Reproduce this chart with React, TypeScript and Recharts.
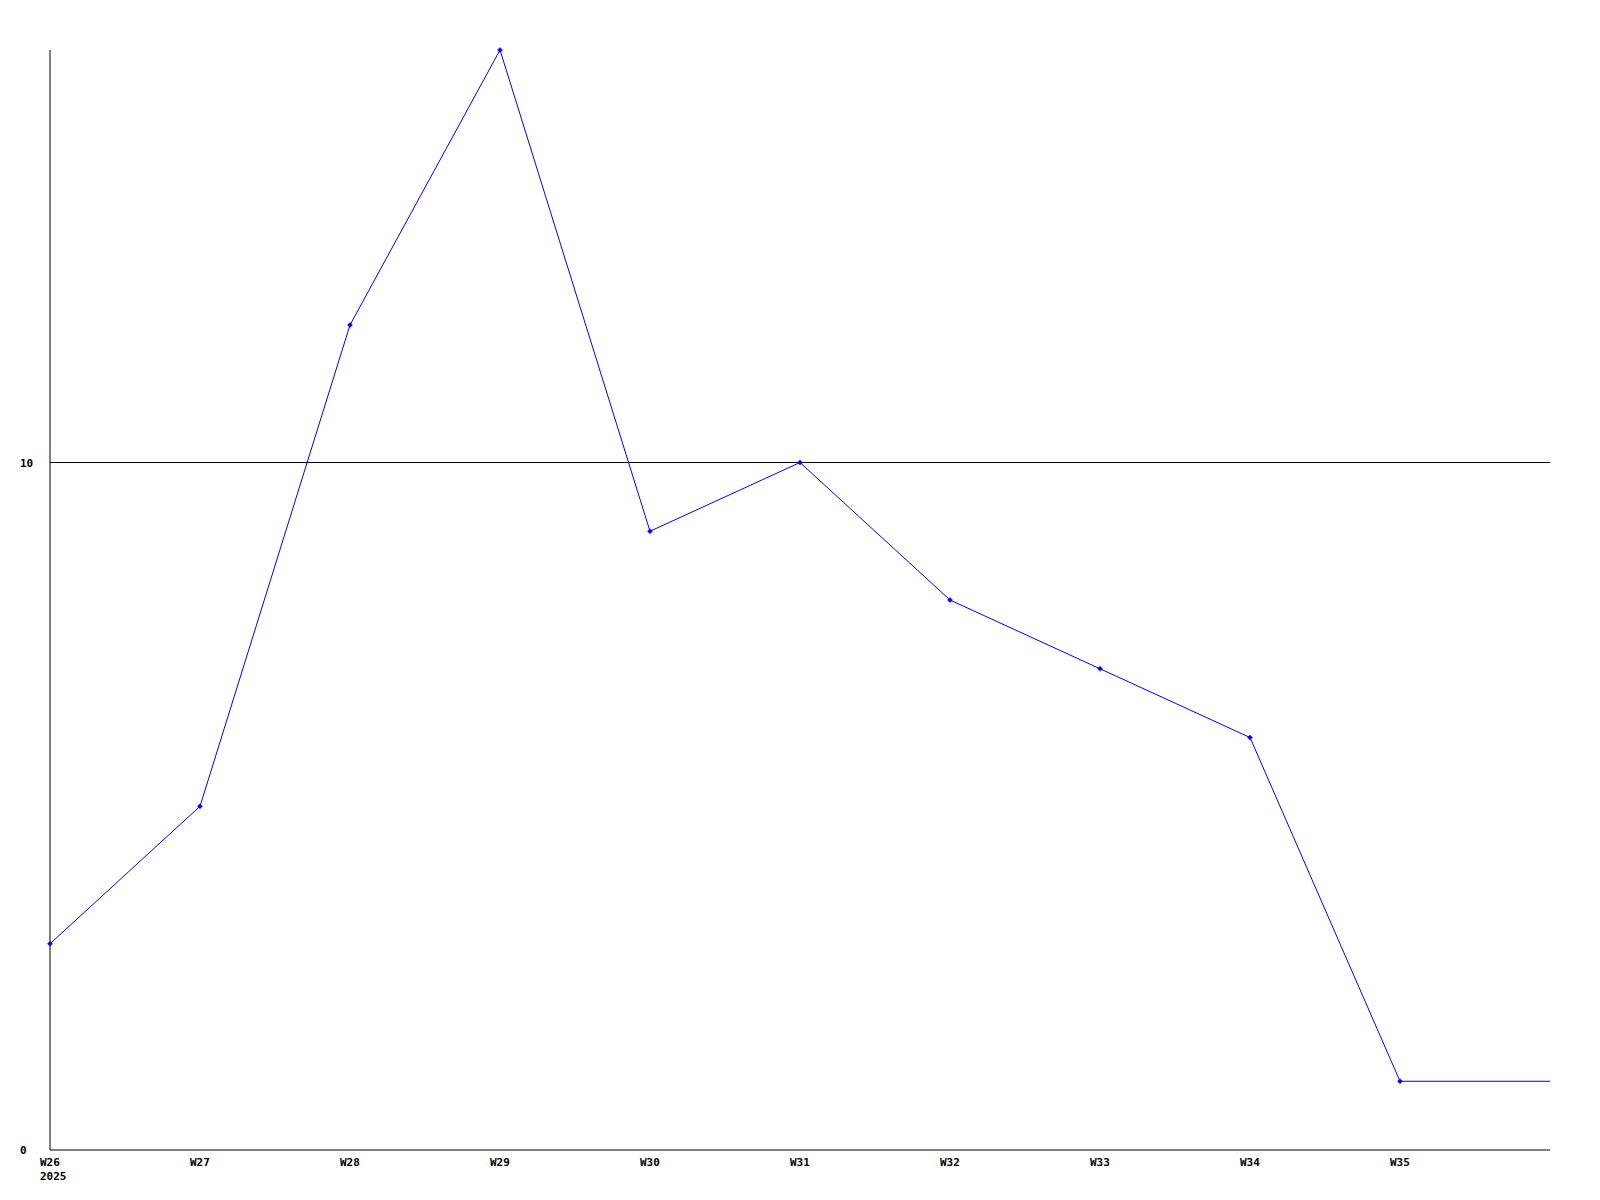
import React from "react";
import { LineChart, Line, XAxis, YAxis, ReferenceLine } from "recharts";

const weekLabels = ["W26", "W27", "W28", "W29", "W30", "W31", "W32", "W33", "W34", "W35"];
const weekValues = [3, 5, 12, 16, 9, 10, 8, 7, 6, 1, 1];
const yearLabel = "2025";
const yTicks = [0, 10];

const data = weekValues.map((v, i) => ({ x: i, value: v }));

const FONT = "'DejaVu Sans Mono', monospace";

const XTick = (props: any) => {
  const { x, y, payload } = props;
  const idx = payload.value;
  const label = weekLabels[idx];
  if (!label) return null;
  return (
    <g>
      <text x={x - 10} y={y + 8} fontFamily={FONT} fontWeight="bold" fontSize={11} fill="#000">
        {label}
      </text>
      {idx === 0 && (
        <text x={x - 10} y={y + 22} fontFamily={FONT} fontWeight="bold" fontSize={11} fill="#000">
          {yearLabel}
        </text>
      )}
    </g>
  );
};

const YTick = (props: any) => {
  const { y, payload } = props;
  return (
    <text x={20} y={y + 4} fontFamily={FONT} fontWeight="bold" fontSize={11} fill="#000">
      {payload.value}
    </text>
  );
};

const Marker = (props: any) => {
  const { cx, cy, index } = props;
  if (index >= weekLabels.length) return <g key={index} />;
  return (
    <path
      key={index}
      d={`M${cx},${cy - 2.5} L${cx + 2.5},${cy} L${cx},${cy + 2.5} L${cx - 2.5},${cy} Z`}
      fill="#0000ff"
      stroke="#0000ff"
      strokeWidth={0.5}
    />
  );
};

export default function App() {
  return (
    <div style={{ position: "absolute", left: 0, top: 0, width: 1600, height: 1200, background: "#fff" }}>
      <LineChart width={1600} height={1200} data={data} margin={{ top: 50, right: 50, left: 0, bottom: 0 }}>
        <XAxis
          dataKey="x"
          type="number"
          domain={[0, 10]}
          ticks={[0, 1, 2, 3, 4, 5, 6, 7, 8, 9]}
          height={50}
          axisLine={{ stroke: "#000", strokeWidth: 1 }}
          tickLine={false}
          tick={<XTick />}
          interval={0}
        />
        <YAxis
          type="number"
          domain={[0, 16]}
          ticks={yTicks}
          width={50}
          axisLine={{ stroke: "#000", strokeWidth: 1 }}
          tickLine={false}
          tick={<YTick />}
          interval={0}
        />
        <ReferenceLine y={10} stroke="#000" strokeWidth={1} />
        <Line
          type="linear"
          dataKey="value"
          stroke="#0000ff"
          strokeWidth={1}
          dot={<Marker />}
          activeDot={false}
          isAnimationActive={false}
        />
      </LineChart>
    </div>
  );
}
